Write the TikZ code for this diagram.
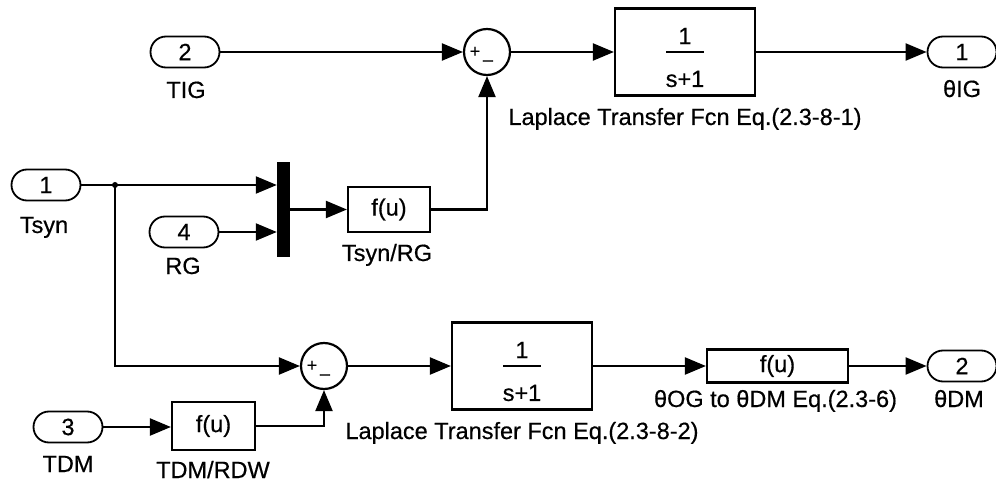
\documentclass[tikz,border=0pt]{standalone}
\usepackage{fontspec}
\setmainfont{Liberation Sans}[FakeBold=0.5]
\usetikzlibrary{arrows.meta,shapes.misc,calc}
\begin{document}
\begin{tikzpicture}[x=1pt,y=-1pt,
  every node/.style={font=\fontsize{23.5}{26}\selectfont, inner sep=0pt},
  wire/.style={line width=2.2pt, -{Triangle[length=21pt,width=17pt]}},
  plain/.style={line width=2.2pt},
  port/.style={draw, rounded rectangle, line width=1.8pt, minimum width=69pt, minimum height=31pt},
  blk/.style={draw, rectangle, line width=2.2pt},
  sumc/.style={draw, circle, line width=2.2pt, minimum size=46pt},
  lbl/.style={anchor=base},
  sgn/.style={font=\fontsize{18}{18}\selectfont},
]
\useasboundingbox (0,0) rectangle (996,481);
\fill[white] (0,0) rectangle (996,481);

% ---- top row
\node[port] (in2) at (185,52) {2};
\node[lbl] (in2l) at (186,98) {TIG};
\node[sumc] (sum1) at (487,52) {};
\node[sgn] (sum1p) at ($(sum1.center)+(-12,0)$) {+};
\node[sgn] (sum1m) at ($(sum1.center)+(1,11)$) {–};
\node[blk, minimum width=140pt, minimum height=87pt] (tf1) at (685,52) {};
\node (tf1n) at ($(tf1.center)+(0,-16)$) {1};
\node (tf1d) at ($(tf1.center)+(0,27)$) {s+1};
\draw[plain] ($(tf1.center)+(-19,0)$) -- ($(tf1.center)+(19,0)$);
\node[lbl] (tf1l) at (685,125) {Laplace Transfer Fcn Eq.(2.3-8-1)};
\node[port] (out1) at (962,52) {1};
\node[lbl] (out1l) at (962,97) {θIG};

% ---- middle row
\node[port] (in1) at (46,185) {1};
\node[lbl] (in1l) at (44,233) {Tsyn};
\coordinate (j) at (115,185);
\fill (j) circle (3);
\node[fill, minimum width=13pt, minimum height=95pt] (mux) at (283.5,209.5) {};
\node[port] (in4) at (184,232) {4};
\node[lbl] (in4l) at (183,274) {RG};
\node[blk, minimum width=82pt, minimum height=45pt] (f1) at (389,209.5) {f(u)};
\node[lbl] (f1l) at (387,261) {Tsyn/RG};

% ---- bottom row
\node[sumc] (sum2) at (324,366) {};
\node[sgn] (sum2p) at ($(sum2.center)+(-12,0)$) {+};
\node[sgn] (sum2m) at ($(sum2.center)+(1,11)$) {–};
\node[blk, minimum width=140pt, minimum height=87pt] (tf2) at (522,366) {};
\node (tf2n) at ($(tf2.center)+(0,-16)$) {1};
\node (tf2d) at ($(tf2.center)+(0,27)$) {s+1};
\draw[plain] ($(tf2.center)+(-19,0)$) -- ($(tf2.center)+(19,0)$);
\node[lbl] (tf2l) at (522,439) {Laplace Transfer Fcn Eq.(2.3-8-2)};
\node[blk, minimum width=141pt, minimum height=33pt] (f3) at (777.5,366) {f(u)};
\node[lbl] (f3l) at (775.5,407) {θOG to θDM Eq.(2.3-6)};
\node[port] (out2) at (962,366) {2};
\node[lbl] (out2l) at (959,407) {θDM};
\node[port] (in3) at (68,427) {3};
\node[lbl] (in3l) at (68,472) {TDM};
\node[blk, minimum width=83pt, minimum height=48pt] (f2) at (213.5,426) {f(u)};
\node[lbl] (f2l) at (213,478) {TDM/RDW};

% ---- connectors
\draw[wire] (in2.east) -- (sum1.west);
\draw[wire] (sum1.east) -- (tf1.west);
\draw[wire] (tf1.east) -- (out1.west);
\draw[plain] (in1.east) -- (j);
\draw[wire] (j) -- (j -| mux.west);
\draw[wire] (in4.east) -- (in4.east -| mux.west);
\draw[wire] (mux.east) -- (f1.west);
\draw[wire] (f1.east) -| (sum1.south);
\draw[wire] (j) |- (sum2.west);
\draw[wire] (in3.east) -- (in3.east -| f2.west);
\draw[wire] (f2.east) -| (sum2.south);
\draw[wire] (sum2.east) -- (tf2.west);
\draw[wire] (tf2.east) -- (f3.west);
\draw[wire] (f3.east) -- (out2.west);
\end{tikzpicture}
\end{document}
